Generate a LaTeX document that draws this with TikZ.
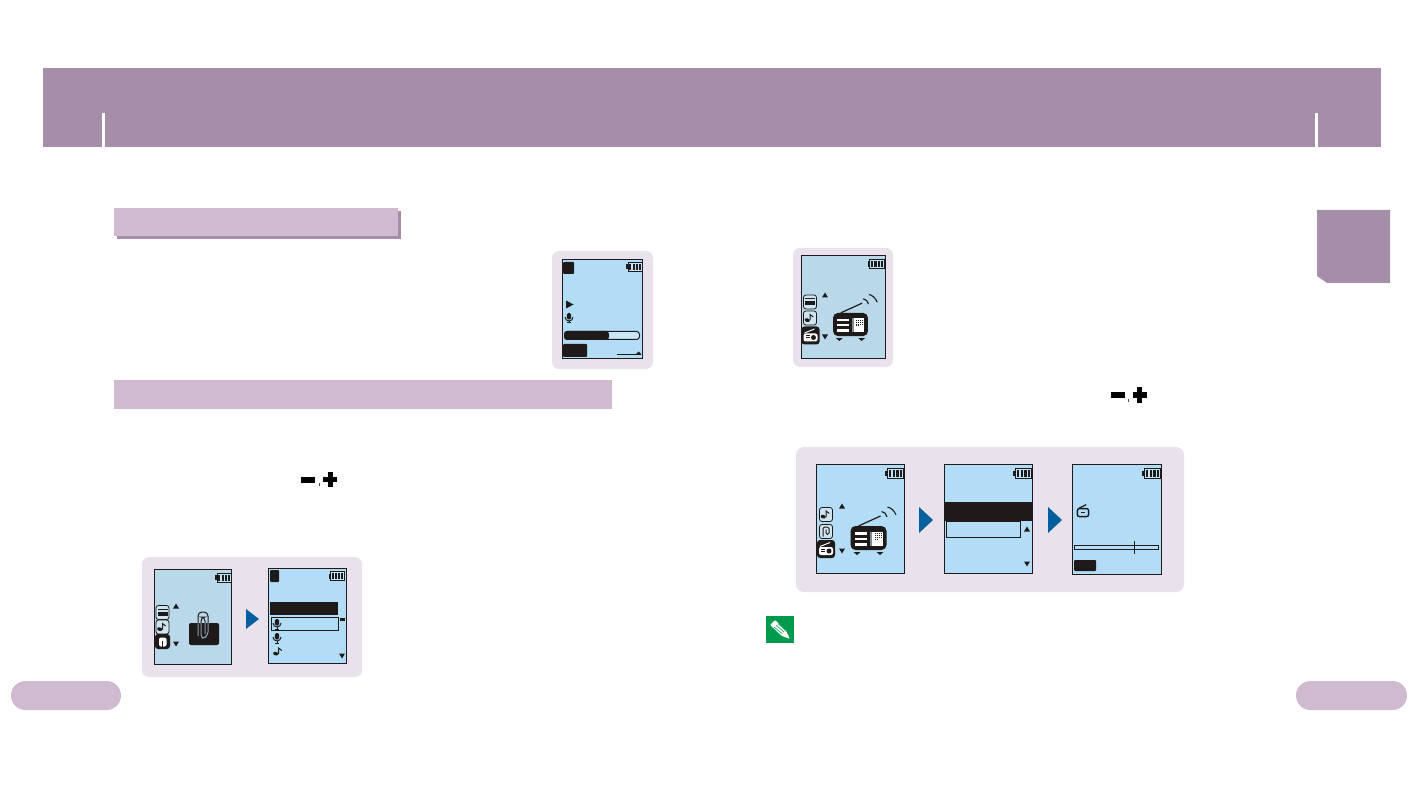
\documentclass[tikz,border=0pt]{standalone}
\usepackage{xcolor}
\usepackage{tikz}
\usetikzlibrary{calc,positioning}
\definecolor{headbar}{HTML}{A68EAA}
\definecolor{softbar}{HTML}{D0BAD0}
\definecolor{panel}{HTML}{E9E2EC}
\definecolor{lcd}{HTML}{B3DDF6}
\definecolor{lcdgrey}{HTML}{B9D8EA}
\definecolor{ink}{HTML}{1E1A19}
\definecolor{bluearrow}{HTML}{00609F}
\definecolor{notegreen}{HTML}{009A4E}
\tikzset{
  blk/.style={fill=ink,rounded corners=1pt},
  iconbox/.style={draw=ink,fill=lcdgrey!70!white,rounded corners=2.5pt,line width=0.8pt},
}
% small icons, all drawn around their centre
\newcommand{\batt}[2]{\begin{scope}[shift={(#1)},scale=#2]
  \draw[ink,fill=white!20!lcd,line width=0.8pt] (-6.5,-4.5) rectangle (7.5,4.5);
  \fill[ink] (-8.5,-2.5) rectangle (-6.5,2.5);
  \foreach \xb in {-4.2,-1,2.2,5.2} \fill[ink] (\xb-1,-3) rectangle (\xb+1,3);
\end{scope}}
\newcommand{\upmark}[1]{\fill[ink] ($(#1)+(0,-2.5)$) -- ++(3,5) -- ++(-6,0) -- cycle;}
\newcommand{\downmark}[1]{\fill[ink] ($(#1)+(0,2.5)$) -- ++(3,-5) -- ++(-6,0) -- cycle;}
\newcommand{\mic}[1]{\begin{scope}[shift={(#1)}]
  \fill[ink,rounded corners=1.5pt] (-2.2,-5) rectangle (2.2,1.5);
  \draw[ink,line width=1pt] (-4,-1) arc (180:0:4);
  \draw[ink,line width=1pt] (0,3) -- (0,5) (-2,5) -- (2,5);
\end{scope}}
\newcommand{\tune}[1]{\begin{scope}[shift={(#1)}]
  \fill[ink,rotate=-15] (-1.8,2.2) ellipse (2.6 and 1.8);
  \draw[ink,line width=1pt] (0.5,2) -- (0.5,-4) -- (3.8,-1.5);
\end{scope}}
\newcommand{\cardicon}[1]{\begin{scope}[shift={(#1)}]
  \draw[iconbox] (-6.5,-7) rectangle (6.5,7);
  \fill[ink] (-5,-1) rectangle (5,3);
  \fill[ink] (-5,-3.5) rectangle (5,-2.5);
\end{scope}}
\newcommand{\noteicon}[1]{\begin{scope}[shift={(#1)}]
  \draw[iconbox] (-6.5,-7) rectangle (6.5,7);
  \tune{-0.5,0.5}
\end{scope}}
\newcommand{\clipicon}[1]{\begin{scope}[shift={(#1)}]
  \draw[iconbox] (-6.5,-7) rectangle (6.5,7);
  \draw[ink,rounded corners=1.5pt,line width=1pt] (-3,5) -- (-3,-4.5) -- (3,-4.5) -- (3,3) -- (0,3) -- (0,-2);
\end{scope}}
\newcommand{\radiosel}[1]{\begin{scope}[shift={(#1)}]
  \fill[ink,rounded corners=3pt] (-9,-9) rectangle (9,9);
  \fill[white,rounded corners=2pt] (-7,-2) rectangle (7,6);
  \draw[white,line width=1pt] (-6,-2.5) -- (4,-6.5);
  \fill[ink] (3,2) circle (2.5);
  \fill[ink] (-5,0) rectangle (-1,0.8);
  \fill[ink] (-5,2) rectangle (-1,2.8);
\end{scope}}
% big radio: centre of body, scale
\newcommand{\bigradio}[2]{\begin{scope}[shift={(#1)},scale=#2]
  \draw[ink,line width=1.2pt] (-10,-12) -- (12,-22);
  \draw[ink,line width=1.1pt] (13,-26.5) .. controls (16,-26) and (18,-24) .. (18.5,-21);
  \draw[ink,line width=1.1pt] (19,-31) .. controls (23,-30) and (26,-27) .. (27.5,-23);
  \fill[ink,rounded corners=5pt] (-18,-12) rectangle (18,12);
  \fill[white] (-13.5,-6) rectangle (-1.5,-3.5);
  \fill[white] (-13.5,-0.5) rectangle (-1.5,2);
  \fill[white] (-13.5,5) rectangle (-1.5,7.5);
  \fill[white] (1.5,-6.5) rectangle (14,8);
  \fill[lcdgrey!60!ink] (1.5,-6.5) rectangle (3.5,8);
  \foreach \xd in {6,8,10,12} \foreach \yd in {-5,-3,-1} \fill[ink] (\xd,\yd) rectangle +(1,1);
  \foreach \xd in {6,8} \fill[ink] (\xd,1) rectangle +(1,1);
  \fill[ink] (-15,14) -- (-8,14) -- (-11.5,17) -- cycle;
  \fill[ink] (8,14) -- (15,14) -- (11.5,17) -- cycle;
\end{scope}}
\newcommand{\panelsign}[1]{\begin{scope}[shift={(#1)}]
  \fill[black] (-18,-3) rectangle (-4,3);
  \fill[black!70] (-0.5,3.5) rectangle (0.5,6.5);
  \fill[black] (8.5,-7.5) rectangle (13.5,7.5);
  \fill[black] (4,-2.5) rectangle (18,2.5);
\end{scope}}

\begin{document}
\begin{tikzpicture}[x=1pt,y=-1pt]
  \useasboundingbox (0,0) rectangle (1417,794);
  % header
  \fill[headbar] (43,68) rectangle (1381,147);
  \coordinate (tickl) at (103.5,113); \coordinate (tickr) at (1316.5,113);
  \draw[white,line width=3pt] (tickl) -- ++(0,34);
  \draw[white,line width=3pt] (tickr) -- ++(0,34);
  % chapter tab
  \fill[headbar] (1317,210) -- (1390,210) -- (1390,283) -- (1327,283) -- (1317,276) -- cycle;
  % section bars
  \fill[headbar] (117,211) rectangle (401,239);
  \fill[softbar] (114,208) rectangle (398,236);
  \fill[softbar] (114,380) rectangle (612,409);
  % page number pills
  \fill[softbar,rounded corners=14.5pt] (11,681) rectangle (121,710);
  \fill[softbar,rounded corners=14.5pt] (1296,681) rectangle (1407,710);

  % playback screen
  \fill[panel,rounded corners=7pt] (552,251) rectangle (653,369);
  \draw[ink,fill=lcd,line width=1pt] (562.5,259.5) rectangle (642.5,358.5);
  \fill[blk] (563,262) rectangle (574,274);
  \batt{634.5,267}{1}
  \fill[ink] (566,300.5) -- (573.5,304.5) -- (566,308.5) -- cycle;
  \mic{569,318}
  \draw[ink,fill=lcd!70!white,rounded corners=3pt,line width=1pt] (564.5,331.5) rectangle (639.5,339.5);
  \fill[ink,rounded corners=3pt] (564,331) -- (609,331) -- (609,340) -- (564,340) -- cycle;
  \fill[blk] (563,344) rectangle (587,357);
  \draw[ink,line width=0.8pt] (617,354) -- (641,354);
  \fill[ink] (641,354) -- (636,354) -- (638.5,351.5) -- cycle;

  % radio menu, top
  \fill[panel,rounded corners=7pt] (793,248) rectangle (893,367);
  \draw[ink,fill=lcdgrey,line width=1pt] (801.5,255.5) rectangle (885.5,358.5);
  \batt{876.5,264}{1.05}
  \cardicon{810,302}
  \noteicon{810,318}
  \radiosel{810.5,335.5}
  \upmark{825,295}
  \downmark{825,337}
  \bigradio{850.5,324.5}{0.97}
  \panelsign{1128.5,395}

  % file menu pair
  \fill[panel,rounded corners=7pt] (142,557) rectangle (362,677);
  \draw[ink,fill=lcdgrey,line width=1pt] (154.5,569.5) rectangle (231.5,664.5);
  \batt{223.5,577.5}{1}
  \cardicon{162.5,612.5}
  \noteicon{162.5,627}
  \fill[ink,rounded corners=3pt] (155,634) rectangle (170,649);
  \fill[white,rounded corners=2pt] (159,637.5) rectangle (166.5,646.5);
  \draw[ink,line width=1pt] (162.5,640.5) -- (162.5,646.5);
  \upmark{176,606}
  \downmark{176,644}
  \fill[ink,rounded corners=2pt] (189,623) rectangle (219,645);
  \draw[ink,rounded corners=4pt,line width=1pt] (198,636) -- (198,612) -- (208,612) -- (208,636) -- (201,639) -- (201,617) -- (205,617) -- (205,634);
  \begin{scope}
    \clip (189,623) rectangle (219,645);
    \draw[lcdgrey!70!ink,rounded corners=4pt,line width=1pt] (198,636) -- (198,612) -- (208,612) -- (208,636) -- (201,639) -- (201,617) -- (205,617) -- (205,634);
  \end{scope}
  \fill[bluearrow] (246,609) -- (259,619) -- (246,629) -- cycle;
  \draw[ink,fill=lcd,line width=1pt] (268.5,568.5) rectangle (346.5,663.5);
  \fill[blk] (270,570) rectangle (279,582);
  \batt{337,576}{1}
  \fill[ink] (270,602) rectangle (338,615);
  \draw[ink,line width=1pt] (271.5,617.5) rectangle (338.5,630.5);
  \mic{277,624}
  \mic{277,638}
  \tune{278,652}
  \fill[ink] (340,618) rectangle (345,620.5);
  \downmark{342,656}
  \panelsign{319,479.5}

  % radio menu sequence
  \fill[panel,rounded corners=8pt] (796,447) rectangle (1184,592);
  \draw[ink,fill=lcd,line width=1pt] (816.5,464.5) rectangle (904.5,573.5);
  \draw[ink,line width=1.5pt] (816,464.5) -- (905,464.5);
  \batt{895,473.5}{1.15}
  \noteicon{826,514.5}
  \clipicon{826,531.5}
  \radiosel{826,549}
  \upmark{842,506}
  \downmark{842,551}
  \bigradio{868.5,538}{1}
  \fill[bluearrow] (919,507) -- (933,520) -- (919,533) -- cycle;
  \draw[ink,fill=lcd,line width=1pt] (944.5,464.5) rectangle (1032.5,573.5);
  \batt{1023,473.5}{1.15}
  \fill[ink] (944,502) rectangle (1033,521);
  \draw[ink,line width=1pt] (946.5,521) rectangle (1020.5,537.5);
  \upmark{1027,529}
  \downmark{1027,564}
  \fill[bluearrow] (1048,507) -- (1062,520) -- (1048,533) -- cycle;
  \draw[ink,fill=lcd,line width=1pt] (1072.5,464.5) rectangle (1161.5,574.5);
  \batt{1152,473.5}{1.15}
  \begin{scope}[shift={(1083,511)},scale=0.8]
    \draw[ink,rounded corners=2pt,line width=1.4pt,fill=lcd] (-7,-3) rectangle (7,7);
    \draw[ink,line width=1.2pt] (-5,-3.5) -- (4,-8);
    \fill[ink] (-3,1) rectangle (3,3);
  \end{scope}
  \draw[ink,line width=0.8pt] (1074.5,545.5) rectangle (1158.5,549.5);
  \draw[ink,line width=0.8pt] (1134.5,541) -- (1134.5,554);
  \fill[blk] (1074,560) rectangle (1096,571);

  % memo icon
  \fill[notegreen] (766,616) rectangle (794,643);
  \fill[white,rounded corners=1pt] (770,625) -- (775,620) -- (786,631) -- (790,639) -- (782,636) -- cycle;
  \draw[notegreen,line width=0.6pt] (774,627) -- (782,633.5) (776,625) -- (784,632) (778,623.5) -- (785,630);
\end{tikzpicture}
\end{document}
